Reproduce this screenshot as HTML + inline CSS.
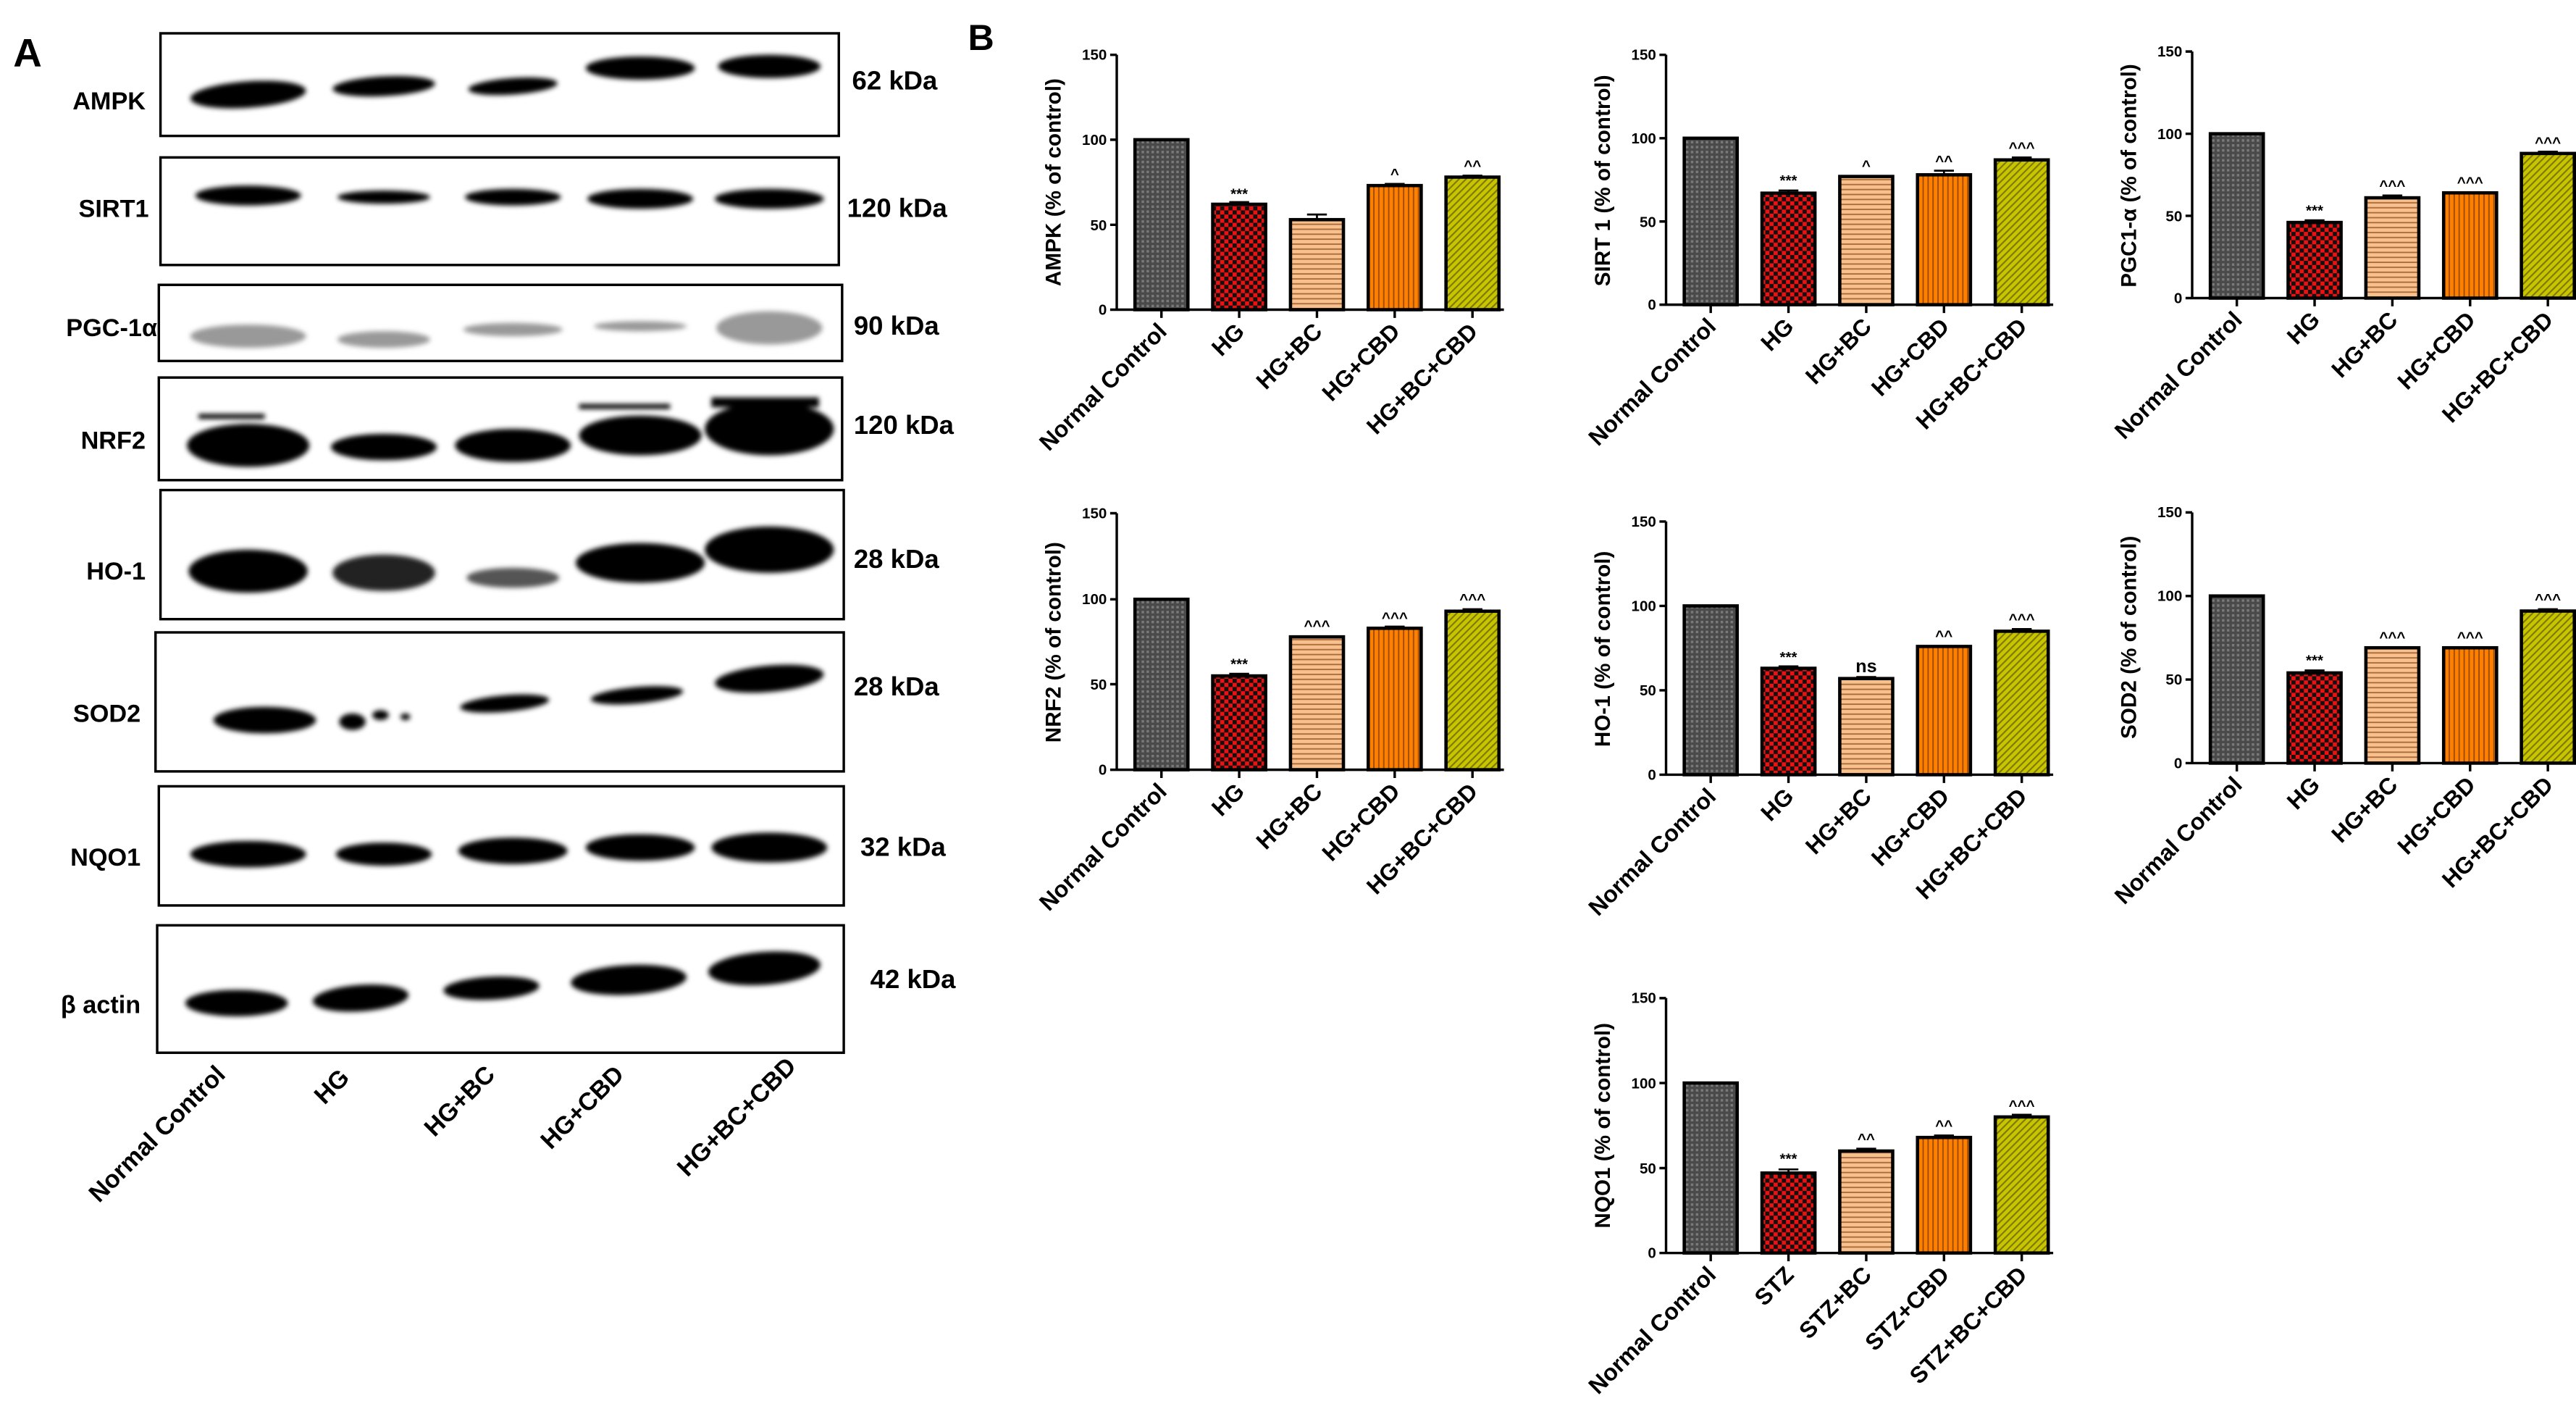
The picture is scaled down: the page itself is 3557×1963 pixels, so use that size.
<!DOCTYPE html>
<html><head><meta charset="utf-8"><style>
html,body{margin:0;padding:0;background:#fff;}
svg{display:block;}
text{font-family:"Liberation Sans",sans-serif;font-weight:bold;fill:#000;}
.t{font-size:9px;}
.xl{font-size:14px;}
.yl{font-size:13px;}
.an{font-size:9px;}
.bl{font-size:15px;}
.kd{font-size:16px;}
.ll{font-size:15px;}
.b rect{stroke:#000;stroke-width:2;}
</style></head><body>
<svg width="3557" height="1963" viewBox="0 0 1557 859" xmlns="http://www.w3.org/2000/svg">
<defs>
<pattern id="pG" width="3" height="3" patternUnits="userSpaceOnUse"><rect width="3" height="3" fill="#4a4a4a"/><rect width="1.5" height="1.5" fill="#7a7a7a"/></pattern>
<pattern id="pR" width="5" height="5" patternUnits="userSpaceOnUse"><rect width="5" height="5" fill="#ee1111"/><rect width="2.5" height="2.5" fill="#111"/><rect x="2.5" y="2.5" width="2.5" height="2.5" fill="#111"/></pattern>
<pattern id="pP" width="4" height="3" patternUnits="userSpaceOnUse"><rect width="4" height="3" fill="#f8c08c"/><rect y="2" width="4" height="0.8" fill="#a86a3a"/></pattern>
<pattern id="pO" width="3" height="4" patternUnits="userSpaceOnUse"><rect width="3" height="4" fill="#ff8000"/><rect x="2" width="0.8" height="4" fill="#9a4a00"/></pattern>
<pattern id="pY" width="3" height="3" patternUnits="userSpaceOnUse" patternTransform="rotate(45)"><rect width="3" height="3" fill="#c8c400"/><rect width="0.9" height="3" fill="#7a7800"/></pattern>
<filter id="bl" x="-20%" y="-50%" width="140%" height="200%"><feGaussianBlur stdDeviation="1.5"/></filter>
</defs>
<rect width="1557" height="859" fill="#fff"/>

<!-- Panel A -->
<text x="8" y="40" style="font-size:24px">A</text>
<g fill="none" stroke="#000" stroke-width="1.5">
<rect x="97" y="20" width="410" height="62"/>
<rect x="97" y="95" width="410" height="65"/>
<rect x="96" y="172" width="413" height="46"/>
<rect x="96" y="228" width="413" height="62"/>
<rect x="97" y="296" width="413" height="78"/>
<rect x="94" y="382" width="416" height="84"/>
<rect x="96" y="475" width="414" height="72"/>
<rect x="95" y="559" width="415" height="77"/>
</g>
<g filter="url(#bl)" fill="#000">
<ellipse cx="150" cy="57" rx="35" ry="8" transform="rotate(-4 150 57)"/>
<ellipse cx="232" cy="52" rx="31" ry="6" transform="rotate(-3 232 52)"/>
<ellipse cx="310" cy="52" rx="27" ry="5" transform="rotate(-4 310 52)"/>
<ellipse cx="387" cy="41" rx="33" ry="7"/>
<ellipse cx="465" cy="40" rx="31" ry="7"/>
<ellipse cx="150" cy="118" rx="32" ry="6"/>
<ellipse cx="232" cy="119" rx="28" ry="4"/>
<ellipse cx="310" cy="119" rx="29" ry="5"/>
<ellipse cx="387" cy="120" rx="32" ry="6"/>
<ellipse cx="465" cy="120" rx="33" ry="6"/>
<g fill="#999"><ellipse cx="150" cy="203" rx="35" ry="7"/><ellipse cx="232" cy="205" rx="28" ry="5"/><ellipse cx="310" cy="199" rx="30" ry="4"/><ellipse cx="387" cy="197" rx="28" ry="3"/><ellipse cx="465" cy="198" rx="32" ry="10"/></g>
<ellipse cx="150" cy="269" rx="37" ry="13"/>
<ellipse cx="232" cy="270" rx="32" ry="8"/>
<ellipse cx="310" cy="269" rx="35" ry="10"/>
<ellipse cx="387" cy="263" rx="37" ry="12"/>
<ellipse cx="465" cy="259" rx="39" ry="16"/>
<ellipse cx="150" cy="345" rx="36" ry="13"/>
<ellipse cx="232" cy="346" rx="31" ry="11" fill="#222"/>
<ellipse cx="310" cy="349" rx="28" ry="6" fill="#555"/>
<ellipse cx="387" cy="340" rx="39" ry="12"/>
<ellipse cx="465" cy="332" rx="39" ry="14"/>
<ellipse cx="160" cy="435" rx="31" ry="8"/>
<ellipse cx="213" cy="436" rx="8" ry="5"/><ellipse cx="230" cy="432" rx="5" ry="3"/><ellipse cx="245" cy="433" rx="3" ry="2"/>
<ellipse cx="305" cy="425" rx="27" ry="5" transform="rotate(-5 305 425)"/>
<ellipse cx="385" cy="420" rx="28" ry="5" transform="rotate(-5 385 420)"/>
<ellipse cx="465" cy="410" rx="33" ry="8" transform="rotate(-5 465 410)"/>
<ellipse cx="150" cy="516" rx="35" ry="8"/>
<ellipse cx="232" cy="516" rx="29" ry="7"/>
<ellipse cx="310" cy="514" rx="33" ry="8"/>
<ellipse cx="387" cy="512" rx="33" ry="8"/>
<ellipse cx="465" cy="512" rx="35" ry="9"/>
<ellipse cx="143" cy="606" rx="31" ry="8"/>
<ellipse cx="218" cy="603" rx="29" ry="8" transform="rotate(-4 218 603)"/>
<ellipse cx="297" cy="597" rx="29" ry="7" transform="rotate(-3 297 597)"/>
<ellipse cx="380" cy="592" rx="35" ry="9" transform="rotate(-3 380 592)"/>
<ellipse cx="462" cy="585" rx="34" ry="10" transform="rotate(-4 462 585)"/>
<rect x="120" y="250" width="40" height="3"/><rect x="350" y="244" width="55" height="3"/><rect x="430" y="240" width="65" height="6"/>
</g>
<g class="bl" text-anchor="end">
<text x="88" y="66">AMPK</text>
<text x="90" y="131">SIRT1</text>
<text x="95" y="203">PGC-1α</text>
<text x="88" y="271">NRF2</text>
<text x="88" y="350">HO-1</text>
<text x="85" y="436">SOD2</text>
<text x="85" y="523">NQO1</text>
<text x="85" y="612">β actin</text>
</g>
<g class="kd">
<text x="515" y="54">62 kDa</text>
<text x="512" y="131">120 kDa</text>
<text x="516" y="202">90 kDa</text>
<text x="516" y="262">120 kDa</text>
<text x="516" y="343">28 kDa</text>
<text x="516" y="420">28 kDa</text>
<text x="520" y="517">32 kDa</text>
<text x="526" y="597">42 kDa</text>
</g>
<g class="ll" text-anchor="end">
<text transform="translate(137,650) rotate(-45)">Normal Control</text>
<text transform="translate(212,652) rotate(-45)">HG</text>
<text transform="translate(300,650) rotate(-45)">HG+BC</text>
<text transform="translate(378,650) rotate(-45)">HG+CBD</text>
<text transform="translate(482,645) rotate(-45)">HG+BC+CBD</text>
</g>

<!-- Panel B -->
<text x="585" y="30" style="font-size:22px">B</text>

<!-- Chart 1 AMPK -->
<g transform="translate(675,187)">
<g class="b">
<rect x="11" y="-102.7" width="32" height="102.7" fill="url(#pG)"/>
<rect x="58" y="-63.7" width="32" height="63.7" fill="url(#pR)"/>
<rect x="105" y="-54.4" width="32" height="54.4" fill="url(#pP)"/>
<rect x="152" y="-75" width="32" height="75" fill="url(#pO)"/>
<rect x="199" y="-80.1" width="32" height="80.1" fill="url(#pY)"/>
</g>
<path d="M121 -54.4V-57.5M115 -57.5H127M74 -63.7V-65M68 -65H80M168 -75V-76M162 -76H174M215 -80.1V-81M209 -81H221" stroke="#000" stroke-width="1.2"/>
<g class="an" text-anchor="middle"><text x="74" y="-67">***</text><text x="168" y="-79">^</text><text x="215" y="-84">^^</text></g>
<path d="M0 -154V0M-4 0H0M-4 -51.3H0M-4 -102.7H0M-4 -154H0M-2 0H234M27 0V5M74 0V5M121 0V5M168 0V5M215 0V5" stroke="#000" stroke-width="1.5" fill="none"/>
<g class="t" text-anchor="end"><text x="-6" y="3">0</text><text x="-6" y="-48">50</text><text x="-6" y="-99.5">100</text><text x="-6" y="-151">150</text></g>
<text class="yl" transform="translate(-34,-77) rotate(-90)" text-anchor="middle">AMPK (% of control)</text>
<g class="xl" text-anchor="end">
<text transform="translate(31,14) rotate(-45)">Normal Control</text>
<text transform="translate(78,14) rotate(-45)">HG</text>
<text transform="translate(125,14) rotate(-45)">HG+BC</text>
<text transform="translate(172,14) rotate(-45)">HG+CBD</text>
<text transform="translate(219,14) rotate(-45)">HG+BC+CBD</text>
</g>
</g>

<!-- Chart 2 SIRT1 -->
<g transform="translate(1007,184)">
<g class="b">
<rect x="11" y="-100.6" width="32" height="100.6" fill="url(#pG)"/>
<rect x="58" y="-67.4" width="32" height="67.4" fill="url(#pR)"/>
<rect x="105" y="-77.5" width="32" height="77.5" fill="url(#pP)"/>
<rect x="152" y="-78.5" width="32" height="78.5" fill="url(#pO)"/>
<rect x="199" y="-87.5" width="32" height="87.5" fill="url(#pY)"/>
</g>
<path d="M74 -67.4V-69M68 -69H80M168 -78.5V-81M162 -81H174M215 -87.5V-89M209 -89H221" stroke="#000" stroke-width="1.2"/>
<g class="an" text-anchor="middle"><text x="74" y="-72">***</text><text x="121" y="-81">^</text><text x="168" y="-84">^^</text><text x="215" y="-92">^^^</text></g>
<path d="M0 -151V0M-4 0H0M-4 -50.3H0M-4 -100.6H0M-4 -151H0M-2 0H234M27 0V5M74 0V5M121 0V5M168 0V5M215 0V5" stroke="#000" stroke-width="1.5" fill="none"/>
<g class="t" text-anchor="end"><text x="-6" y="3">0</text><text x="-6" y="-47">50</text><text x="-6" y="-97.5">100</text><text x="-6" y="-148">150</text></g>
<text class="yl" transform="translate(-34,-75) rotate(-90)" text-anchor="middle">SIRT 1 (% of control)</text>
<g class="xl" text-anchor="end">
<text transform="translate(31,14) rotate(-45)">Normal Control</text>
<text transform="translate(78,14) rotate(-45)">HG</text>
<text transform="translate(125,14) rotate(-45)">HG+BC</text>
<text transform="translate(172,14) rotate(-45)">HG+CBD</text>
<text transform="translate(219,14) rotate(-45)">HG+BC+CBD</text>
</g>
</g>

<!-- Chart 3 PGC1 -->
<g transform="translate(1325,180)">
<g class="b">
<rect x="11" y="-99.3" width="32" height="99.3" fill="url(#pG)"/>
<rect x="58" y="-45.7" width="32" height="45.7" fill="url(#pR)"/>
<rect x="105" y="-60.6" width="32" height="60.6" fill="url(#pP)"/>
<rect x="152" y="-63.6" width="32" height="63.6" fill="url(#pO)"/>
<rect x="199" y="-87.4" width="32" height="87.4" fill="url(#pY)"/>
</g>
<path d="M74 -45.7V-47M68 -47H80M121 -60.6V-62M115 -62H127M215 -87.4V-88.5M209 -88.5H221" stroke="#000" stroke-width="1.2"/>
<g class="an" text-anchor="middle"><text x="74" y="-50">***</text><text x="121" y="-65">^^^</text><text x="168" y="-67">^^^</text><text x="215" y="-91">^^^</text></g>
<path d="M0 -149V0M-4 0H0M-4 -49.7H0M-4 -99.3H0M-4 -149H0M-2 0H234M27 0V5M74 0V5M121 0V5M168 0V5M215 0V5" stroke="#000" stroke-width="1.5" fill="none"/>
<g class="t" text-anchor="end"><text x="-6" y="3">0</text><text x="-6" y="-46.5">50</text><text x="-6" y="-96">100</text><text x="-6" y="-146">150</text></g>
<text class="yl" transform="translate(-34,-74) rotate(-90)" text-anchor="middle">PGC1-α (% of control)</text>
<g class="xl" text-anchor="end">
<text transform="translate(31,14) rotate(-45)">Normal Control</text>
<text transform="translate(78,14) rotate(-45)">HG</text>
<text transform="translate(125,14) rotate(-45)">HG+BC</text>
<text transform="translate(172,14) rotate(-45)">HG+CBD</text>
<text transform="translate(219,14) rotate(-45)">HG+BC+CBD</text>
</g>
</g>

<!-- Chart 4 NRF2 -->
<g transform="translate(675,465)">
<g class="b">
<rect x="11" y="-103" width="32" height="103" fill="url(#pG)"/>
<rect x="58" y="-56.7" width="32" height="56.7" fill="url(#pR)"/>
<rect x="105" y="-80.3" width="32" height="80.3" fill="url(#pP)"/>
<rect x="152" y="-85.5" width="32" height="85.5" fill="url(#pO)"/>
<rect x="199" y="-95.8" width="32" height="95.8" fill="url(#pY)"/>
</g>
<path d="M74 -56.7V-58M68 -58H80M168 -85.5V-86.5M162 -86.5H174M215 -95.8V-97M209 -97H221" stroke="#000" stroke-width="1.2"/>
<g class="an" text-anchor="middle"><text x="74" y="-61">***</text><text x="121" y="-84">^^^</text><text x="168" y="-89">^^^</text><text x="215" y="-100">^^^</text></g>
<path d="M0 -155V0M-4 0H0M-4 -51.7H0M-4 -103H0M-4 -155H0M-2 0H234M27 0V5M74 0V5M121 0V5M168 0V5M215 0V5" stroke="#000" stroke-width="1.5" fill="none"/>
<g class="t" text-anchor="end"><text x="-6" y="3">0</text><text x="-6" y="-48.5">50</text><text x="-6" y="-100">100</text><text x="-6" y="-152">150</text></g>
<text class="yl" transform="translate(-34,-77) rotate(-90)" text-anchor="middle">NRF2 (% of control)</text>
<g class="xl" text-anchor="end">
<text transform="translate(31,14) rotate(-45)">Normal Control</text>
<text transform="translate(78,14) rotate(-45)">HG</text>
<text transform="translate(125,14) rotate(-45)">HG+BC</text>
<text transform="translate(172,14) rotate(-45)">HG+CBD</text>
<text transform="translate(219,14) rotate(-45)">HG+BC+CBD</text>
</g>
</g>

<!-- Chart 5 HO-1 -->
<g transform="translate(1007,468)">
<g class="b">
<rect x="11" y="-102" width="32" height="102" fill="url(#pG)"/>
<rect x="58" y="-64.3" width="32" height="64.3" fill="url(#pR)"/>
<rect x="105" y="-58.1" width="32" height="58.1" fill="url(#pP)"/>
<rect x="152" y="-77.5" width="32" height="77.5" fill="url(#pO)"/>
<rect x="199" y="-86.7" width="32" height="86.7" fill="url(#pY)"/>
</g>
<path d="M74 -64.3V-65.5M68 -65.5H80M121 -58.1V-59M115 -59H127M215 -86.7V-88M209 -88H221" stroke="#000" stroke-width="1.2"/>
<g class="an" text-anchor="middle"><text x="74" y="-68">***</text><text x="121" y="-62" style="font-size:11px">ns</text><text x="168" y="-81">^^</text><text x="215" y="-91">^^^</text></g>
<path d="M0 -153V0M-4 0H0M-4 -51H0M-4 -102H0M-4 -153H0M-2 0H234M27 0V5M74 0V5M121 0V5M168 0V5M215 0V5" stroke="#000" stroke-width="1.5" fill="none"/>
<g class="t" text-anchor="end"><text x="-6" y="3">0</text><text x="-6" y="-48">50</text><text x="-6" y="-99">100</text><text x="-6" y="-150">150</text></g>
<text class="yl" transform="translate(-34,-76) rotate(-90)" text-anchor="middle">HO-1 (% of control)</text>
<g class="xl" text-anchor="end">
<text transform="translate(31,14) rotate(-45)">Normal Control</text>
<text transform="translate(78,14) rotate(-45)">HG</text>
<text transform="translate(125,14) rotate(-45)">HG+BC</text>
<text transform="translate(172,14) rotate(-45)">HG+CBD</text>
<text transform="translate(219,14) rotate(-45)">HG+BC+CBD</text>
</g>
</g>

<!-- Chart 6 SOD2 -->
<g transform="translate(1325,461)">
<g class="b">
<rect x="11" y="-101" width="32" height="101" fill="url(#pG)"/>
<rect x="58" y="-54.5" width="32" height="54.5" fill="url(#pR)"/>
<rect x="105" y="-69.7" width="32" height="69.7" fill="url(#pP)"/>
<rect x="152" y="-69.7" width="32" height="69.7" fill="url(#pO)"/>
<rect x="199" y="-91.9" width="32" height="91.9" fill="url(#pY)"/>
</g>
<path d="M74 -54.5V-56M68 -56H80M215 -91.9V-93M209 -93H221" stroke="#000" stroke-width="1.2"/>
<g class="an" text-anchor="middle"><text x="74" y="-59">***</text><text x="121" y="-73">^^^</text><text x="168" y="-73">^^^</text><text x="215" y="-96">^^^</text></g>
<path d="M0 -151.5V0M-4 0H0M-4 -50.5H0M-4 -101H0M-4 -151.5H0M-2 0H234M27 0V5M74 0V5M121 0V5M168 0V5M215 0V5" stroke="#000" stroke-width="1.5" fill="none"/>
<g class="t" text-anchor="end"><text x="-6" y="3">0</text><text x="-6" y="-47.5">50</text><text x="-6" y="-98">100</text><text x="-6" y="-148.5">150</text></g>
<text class="yl" transform="translate(-34,-76) rotate(-90)" text-anchor="middle">SOD2 (% of control)</text>
<g class="xl" text-anchor="end">
<text transform="translate(31,14) rotate(-45)">Normal Control</text>
<text transform="translate(78,14) rotate(-45)">HG</text>
<text transform="translate(125,14) rotate(-45)">HG+BC</text>
<text transform="translate(172,14) rotate(-45)">HG+CBD</text>
<text transform="translate(219,14) rotate(-45)">HG+BC+CBD</text>
</g>
</g>

<!-- Chart 7 NQO1 -->
<g transform="translate(1007,757)">
<g class="b">
<rect x="11" y="-102.7" width="32" height="102.7" fill="url(#pG)"/>
<rect x="58" y="-48.3" width="32" height="48.3" fill="url(#pR)"/>
<rect x="105" y="-61.6" width="32" height="61.6" fill="url(#pP)"/>
<rect x="152" y="-69.8" width="32" height="69.8" fill="url(#pO)"/>
<rect x="199" y="-82.2" width="32" height="82.2" fill="url(#pY)"/>
</g>
<path d="M74 -48.3V-50.5M68 -50.5H80M121 -61.6V-63M115 -63H127M168 -69.8V-71M162 -71H174M215 -82.2V-83.5M209 -83.5H221" stroke="#000" stroke-width="1.2"/>
<g class="an" text-anchor="middle"><text x="74" y="-54">***</text><text x="121" y="-66">^^</text><text x="168" y="-74">^^</text><text x="215" y="-86">^^^</text></g>
<path d="M0 -154V0M-4 0H0M-4 -51.3H0M-4 -102.7H0M-4 -154H0M-2 0H234M27 0V5M74 0V5M121 0V5M168 0V5M215 0V5" stroke="#000" stroke-width="1.5" fill="none"/>
<g class="t" text-anchor="end"><text x="-6" y="3">0</text><text x="-6" y="-48">50</text><text x="-6" y="-99.5">100</text><text x="-6" y="-151">150</text></g>
<text class="yl" transform="translate(-34,-77) rotate(-90)" text-anchor="middle">NQO1 (% of control)</text>
<g class="xl" text-anchor="end">
<text transform="translate(31,14) rotate(-45)">Normal Control</text>
<text transform="translate(78,14) rotate(-45)">STZ</text>
<text transform="translate(125,14) rotate(-45)">STZ+BC</text>
<text transform="translate(172,14) rotate(-45)">STZ+CBD</text>
<text transform="translate(219,14) rotate(-45)">STZ+BC+CBD</text>
</g>
</g>
</svg>
</body></html>
